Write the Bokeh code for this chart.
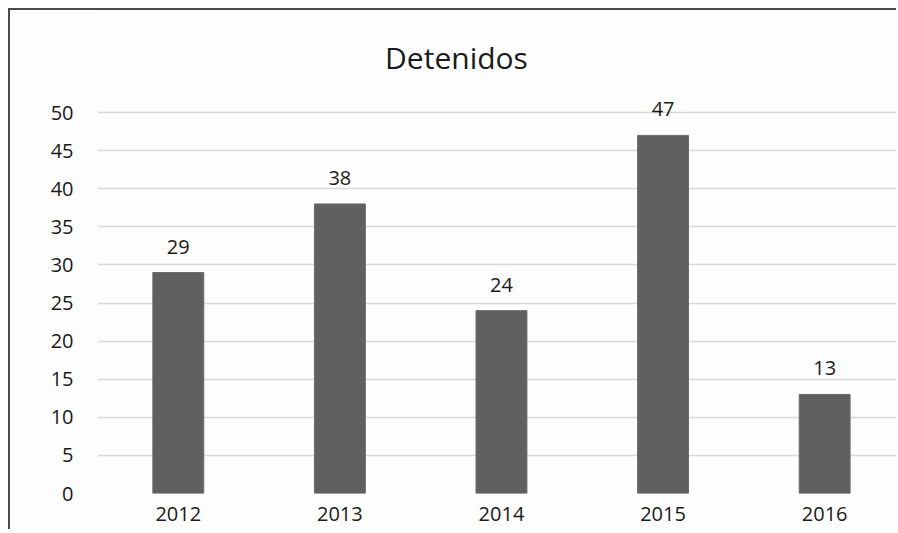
from bokeh.plotting import figure
from bokeh.models import ColumnDataSource, LabelSet, Label, Range1d, FixedTicker
from bokeh.core.properties import value
from bokeh.embed import file_html
from bokeh.resources import INLINE

# Data
years = ["2012", "2013", "2014", "2015", "2016"]
detenidos = [29, 38, 24, 47, 13]
y_ticks = [0, 5, 10, 15, 20, 25, 30, 35, 40, 45, 50]
title_text = "Detenidos"

pos = list(range(len(years)))
src = ColumnDataSource(dict(x=pos, y=detenidos, label=[str(v) for v in detenidos]))

FONT = "Open Sans"
TXT = "#1a1a1a"

p = figure(width=888, height=521, output_backend="svg", toolbar_location=None,
           x_range=Range1d(-0.5, 4.457), y_range=Range1d(0, 63.39),
           min_border_left=87, min_border_right=0, min_border_top=0, min_border_bottom=38,
           background_fill_color="#fdfdfd", border_fill_color="#fdfdfd")
p.outline_line_color = None
p.styles = {"margin-left": "8px", "margin-top": "8px",
            "border-left": "2px solid #4a4a4a", "border-top": "2px solid #4a4a4a"}

p.vbar(x="x", top="y", width=0.315, source=src, fill_color="#606060", line_color="#6a6a6a")

labels = LabelSet(x="x", y="y", text="label", source=src, text_align="center",
                  text_baseline="alphabetic", y_offset=19, text_font=value(FONT),
                  text_font_size="20px", text_color=TXT)
p.add_layout(labels)

title = Label(x=359, y=436, x_units="screen", y_units="screen", text=title_text,
              text_align="center", text_baseline="alphabetic", text_font=FONT,
              text_font_size="30px", text_color=TXT)
p.add_layout(title)

p.xgrid.visible = False
p.ygrid.grid_line_color = "#d9d9d9"
p.ygrid.grid_line_width = 1.5

p.yaxis.ticker = FixedTicker(ticks=y_ticks)
p.xaxis.ticker = FixedTicker(ticks=pos)
p.xaxis.major_label_overrides = {i: y for i, y in enumerate(years)}

for ax in (p.xaxis, p.yaxis):
    ax.axis_line_color = None
    ax.major_tick_line_color = None
    ax.minor_tick_line_color = None
    ax.major_tick_out = 0
    ax.major_tick_in = 0
    ax.major_label_text_font = FONT
    ax.major_label_text_font_size = "20px"
    ax.major_label_text_color = TXT
p.yaxis.major_label_standoff = 24
p.xaxis.major_label_standoff = 13

open("out.html", "w").write(file_html(p, INLINE))
